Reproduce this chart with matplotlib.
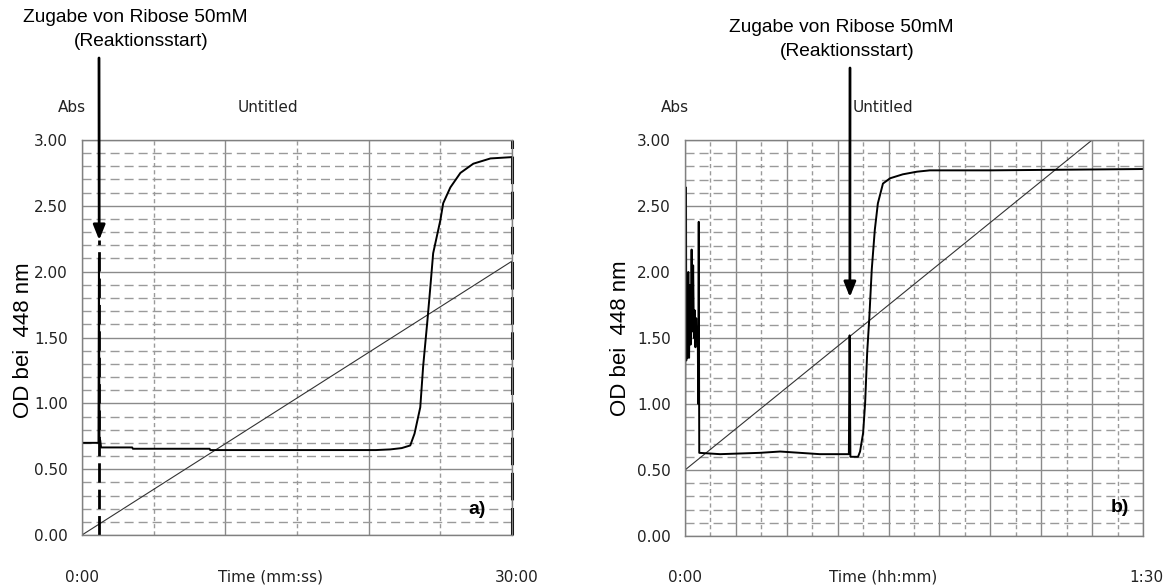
import matplotlib
matplotlib.use("Agg")
import matplotlib.pyplot as plt
from matplotlib.ticker import MultipleLocator

# ---------------- data ----------------
# panel a) time in minutes, OD at 448 nm
a_time = [0, 1.15, 1.18, 1.22, 1.27, 1.33, 3.5, 3.55, 8.9, 8.95, 20.5, 21.5,
          22.3, 22.9, 23.2, 23.6, 23.8, 24.1, 24.3, 24.5, 25.0, 25.2, 25.7,
          26.4, 27.3, 28.5, 30.0]
a_od = [0.70, 0.70, 2.10, 0.72, 0.72, 0.665, 0.665, 0.655, 0.655, 0.645, 0.645,
        0.65, 0.66, 0.68, 0.77, 0.97, 1.28, 1.63, 1.88, 2.14, 2.39, 2.52, 2.64,
        2.75, 2.82, 2.86, 2.87]
a_ref_time = [0, 30]
a_ref_od = [0.0, 2.08]
a_event = 1.2          # ribose addition (min)
a_event_tip = 2.24
a_end_marker = 30.0

# panel b) time in minutes, OD at 448 nm
b_time = [0.0, 0.08, 0.2, 0.25, 0.4, 0.5, 0.65, 0.8, 0.95, 1.1, 1.3, 1.45, 1.6,
          1.75, 1.9, 2.05, 2.2, 2.35, 2.5, 2.6, 2.7, 2.8, 6.9, 14.7, 18.7, 22.6,
          26.5, 32.2, 32.35, 32.5, 34.0, 34.4, 35.0, 35.4, 35.8, 36.2, 36.7,
          37.3, 37.9, 38.9, 40.3, 42.8, 45.6, 48.1, 60.0, 75.0, 90.0]
b_od = [0.05, 2.64, 2.64, 1.33, 1.58, 1.35, 2.0, 1.35, 1.9, 1.45, 2.17, 1.55,
        2.05, 1.5, 1.71, 1.43, 1.65, 1.5, 1.58, 1.0, 2.38, 0.63, 0.62, 0.63,
        0.64, 0.63, 0.62, 0.62, 1.52, 0.60, 0.60, 0.64, 0.78, 1.01, 1.39, 1.64,
        2.02, 2.32, 2.52, 2.67, 2.71, 2.74, 2.76, 2.77, 2.77, 2.775, 2.78]
b_ref_time = [0, 80]
b_ref_od = [0.5, 3.0]
b_event = 32.4
b_event_tip = 1.81

y_ticks = [0.0, 0.5, 1.0, 1.5, 2.0, 2.5, 3.0]
y_ticklabels = ["0.00", "0.50", "1.00", "1.50", "2.00", "2.50", "3.00"]

annot_line1 = "Zugabe von Ribose 50mM"
annot_line2 = "(Reaktionsstart)"
ylabel = "OD bei  448 nm"

# ---------------- figure ----------------
W, H = 1172, 585
fig = plt.figure(figsize=(W / 100, H / 100), dpi=100)
fig.patch.set_facecolor("white")

SOFT = "DejaVu Sans"
ARIAL = "Liberation Sans"
GRID_MAJ = "#8a8a8a"
GRID_MIN = "#9a9a9a"
TXT = "#222222"


def px(x, y):
    return x / W, 1 - y / H


def style_axes(ax, xmax, major_x, minor_x):
    ax.set_xlim(0, xmax)
    ax.set_ylim(0, 3.0)
    ax.set_yticks(y_ticks)
    ax.set_yticklabels(y_ticklabels, fontfamily=SOFT, fontsize=11, color=TXT)
    ax.yaxis.set_minor_locator(MultipleLocator(0.1))
    ax.xaxis.set_major_locator(MultipleLocator(major_x))
    ax.xaxis.set_minor_locator(MultipleLocator(minor_x))
    ax.tick_params(axis="both", which="both", length=0)
    ax.tick_params(axis="y", pad=10)
    ax.set_xticklabels([])
    ax.grid(True, which="major", axis="both", color=GRID_MAJ, lw=1.0, ls="-")
    ax.grid(True, which="minor", axis="y", color=GRID_MIN, lw=1.0, ls=(0, (6.5, 3.6)))
    ax.grid(True, which="minor", axis="x", color=GRID_MIN, lw=1.0, ls=(0, (3, 2.2)))
    ax.set_axisbelow(True)
    for s in ax.spines.values():
        s.set_color("#808080")
        s.set_linewidth(1.0)


ARROW = dict(arrowstyle="-|>,head_length=0.75,head_width=0.3",
             color="black", lw=2, mutation_scale=12, shrinkA=0, shrinkB=0)

# panel a
axA = fig.add_axes([82 / W, 50 / H, 430 / W, 395 / H])
style_axes(axA, 30, 10, 5)
axA.plot(a_ref_time, a_ref_od, color="#333333", lw=0.8)
axA.plot(a_time, a_od, color="black", lw=1.4)
axA.axvline(a_event, ymin=0, ymax=a_event_tip / 3.0, color="black", lw=2,
            dashes=(7, 2.5))
axA.axvline(a_end_marker, color="black", lw=2.2, dashes=(9, 2.5), clip_on=False)
axA.annotate("", xy=(a_event, a_event_tip), xycoords="data",
             xytext=(99, H - 58), textcoords="figure pixels",
             arrowprops=ARROW, annotation_clip=False)

# panel b
axB = fig.add_axes([685 / W, 49 / H, 458 / W, 396 / H])
style_axes(axB, 90, 10, 5)
axB.plot(b_ref_time, b_ref_od, color="#333333", lw=0.8)
axB.plot(b_time, b_od, color="black", lw=1.4)
axB.annotate("", xy=(b_event, b_event_tip), xycoords="data",
             xytext=(850, H - 68), textcoords="figure pixels",
             arrowprops=ARROW, annotation_clip=False)


# texts
def ftext(x, y, s, **kw):
    fig.text(*px(x, y), s, ha=kw.pop("ha", "center"), va=kw.pop("va", "center"), **kw)


for (x1, y1, x2, y2) in [(135, 17, 141, 42), (841, 28, 847, 52)]:
    ftext(x1, y1, annot_line1, fontfamily=ARIAL, fontsize=13.8)
    ftext(x2, y2, annot_line2, fontfamily=ARIAL, fontsize=13.8)

ftext(72, 107, "Abs", fontfamily=SOFT, fontsize=11, color=TXT)
ftext(268, 107, "Untitled", fontfamily=SOFT, fontsize=11, color=TXT)
ftext(675, 107, "Abs", fontfamily=SOFT, fontsize=11, color=TXT)
ftext(883, 107, "Untitled", fontfamily=SOFT, fontsize=11, color=TXT)

ftext(82, 577, "0:00", fontfamily=SOFT, fontsize=11, color=TXT)
ftext(270, 577, "Time (mm:ss)", fontfamily=SOFT, fontsize=11, color=TXT)
ftext(517, 577, "30:00", fontfamily=SOFT, fontsize=11, color=TXT)
ftext(685, 577, "0:00", fontfamily=SOFT, fontsize=11, color=TXT)
ftext(883, 577, "Time (hh:mm)", fontfamily=SOFT, fontsize=11, color=TXT)
ftext(1146, 577, "1:30", fontfamily=SOFT, fontsize=11, color=TXT)

ftext(24, 340, ylabel, fontfamily=ARIAL, fontsize=16, rotation=90)
ftext(620, 338, ylabel, fontfamily=ARIAL, fontsize=16, rotation=90)

ftext(477, 510, "a)", fontfamily=ARIAL, fontsize=14, fontweight="bold")
ftext(1120, 508, "b)", fontfamily=ARIAL, fontsize=14, fontweight="bold")

fig.savefig("out.png", dpi=100, facecolor="white")
